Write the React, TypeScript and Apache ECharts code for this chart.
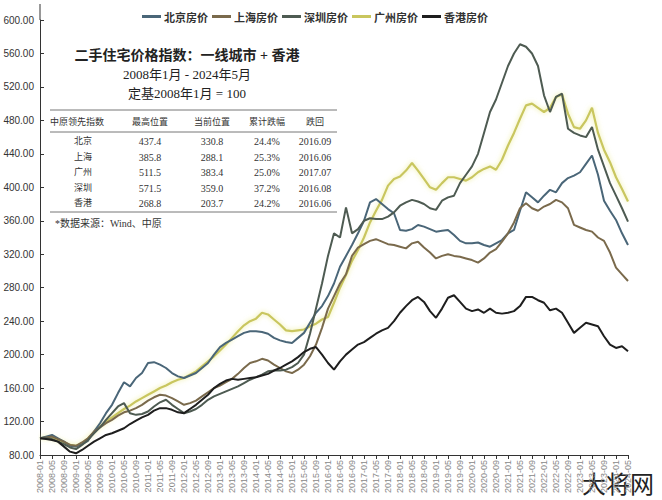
import React, { useEffect, useRef } from "react";
import * as echarts from "echarts";

// ---- categories (every 2 months, 2008-01 .. 2024-05) ----
const years = [2008, 2009, 2010, 2011, 2012, 2013, 2014, 2015, 2016, 2017, 2018, 2019, 2020, 2021, 2022, 2023, 2024];
const monthCodes = ["01", "03", "05", "07", "09", "11"];
const categories: string[] = [];
for (const y of years) {
  for (const m of monthCodes) {
    if (y === 2024 && Number(m) > 5) continue;
    categories.push(`${y}-${m}`);
  }
}

const yTicks = [80, 120, 160, 200, 240, 280, 320, 360, 400, 440, 480, 520, 560, 600];

// ---- series values (Jan, Mar, May, Jul, Sep, Nov per year) ----
const beijing = [
  100, 102, 104, 100, 96, 91,
  90, 93, 97, 108, 118, 130,
  140, 154, 167, 162, 172, 178,
  190, 191, 188, 184, 178, 174,
  172, 175, 178, 184, 190, 200,
  209, 214, 218, 222, 226, 228,
  228, 227, 225, 220, 217, 215,
  214, 220, 226, 238, 250, 258,
  270, 285, 305, 318, 331, 345,
  360, 382, 386, 380, 374, 369,
  349, 348, 350, 355, 353, 350,
  347, 348, 349, 343, 336, 333,
  333, 334, 331, 329, 333, 337,
  345, 349, 372, 394, 388, 382,
  390, 397, 394, 405, 411, 414,
  418, 428, 438, 415, 384, 372,
  361, 345, 331,
];

const shanghai = [
  100, 101, 102, 99, 96, 92,
  91, 95, 100, 108, 113, 118,
  122, 127, 131, 133, 136, 140,
  145, 149, 152, 151, 148, 144,
  140, 142, 145, 150, 155, 160,
  163, 167, 171, 177, 184, 190,
  192, 195, 193, 188, 184, 180,
  178, 182, 188, 198, 212, 232,
  255, 270, 285, 296, 318, 328,
  332, 336, 338, 335, 332, 331,
  329, 327, 333, 335, 328, 322,
  315, 318, 320, 318, 317, 315,
  313, 310, 315, 322, 326, 335,
  345, 358, 375, 381, 375, 372,
  377, 380, 385, 382, 375, 355,
  352, 349, 347, 340, 336, 322,
  304, 296, 288,
];

const shenzhen = [
  100, 100, 99, 96, 93, 89,
  87, 92, 98, 106, 113, 122,
  130, 138, 142, 130, 128, 129,
  132, 138, 143, 146, 140, 135,
  130, 132, 135, 140, 146, 150,
  153, 156, 159, 162, 166, 170,
  173, 176, 180, 181, 181, 182,
  185, 190, 200, 225, 255, 285,
  318, 345, 340, 376, 345, 350,
  360, 363, 362, 362, 365, 370,
  378, 382, 385, 383, 380, 375,
  373, 384, 388, 390, 405, 415,
  425, 440, 465, 490, 505, 525,
  545, 560, 571, 568, 560, 545,
  510, 490, 508, 512, 470, 465,
  462, 460, 472, 445, 425, 405,
  390, 375, 359,
];

const guangzhou = [
  100, 101, 100, 98, 95, 92,
  91, 94, 100, 107, 114, 120,
  125, 130, 135, 139, 144, 148,
  152, 156, 160, 163, 167, 170,
  172, 176, 180, 186, 192, 198,
  205, 212, 220, 228, 235, 240,
  243, 250, 248, 242, 236, 229,
  228, 229, 230, 234, 237, 242,
  245, 262, 280, 295, 312, 325,
  340, 358, 372, 385, 402, 410,
  413, 420, 429, 420, 410, 400,
  397, 405, 412, 412, 410, 408,
  412, 418, 422, 425, 421, 433,
  450, 465, 482, 498, 500, 495,
  490, 495, 508, 511, 488, 472,
  470, 480, 495, 465, 445, 430,
  412, 398, 383,
];

const hongkong = [
  100, 99, 98, 96, 90, 84,
  82, 86, 91, 96, 100, 104,
  106, 109, 112, 117, 121, 125,
  128, 133, 136, 136, 134, 131,
  130, 135, 140, 146, 152, 160,
  165, 169, 171, 170, 171, 172,
  173, 175, 177, 181, 184, 188,
  192, 197, 203, 207, 209, 200,
  190, 182, 192, 200, 206, 212,
  215, 220, 225, 229, 232, 240,
  250, 258, 265, 269, 263, 252,
  244, 255, 268, 271, 263, 255,
  252, 254, 250, 255, 250, 249,
  250, 252, 258, 269, 269, 265,
  262, 253, 255, 250, 238, 226,
  232, 238, 236, 234, 222, 212,
  208, 210, 204,
];

const seriesNames = ["北京房价", "上海房价", "深圳房价", "广州房价", "香港房价"];

// ---- table ----
const tableHeader = ["中原领先指数", "最高位置", "当前位置", "累计跌幅", "跌回"];
const tableCities = ["北京", "上海", "广州", "深圳", "香港"];
const tableMax = ["437.4", "385.8", "511.5", "571.5", "268.8"];
const tableCurrent = ["330.8", "288.1", "383.4", "359.0", "203.7"];
const tableDrop = ["24.4%", "25.3%", "25.0%", "37.2%", "24.2%"];
const tableBackTo = ["2016.09", "2016.06", "2017.07", "2016.08", "2016.06"];

const titleLines = ["二手住宅价格指数：一线城市 + 香港", "2008年1月 - 2024年5月", "定基2008年1月 = 100"];
const footnote = "*数据来源：Wind、中原";

const SERIF = '"Liberation Serif", "DejaVu Serif", "Noto Sans CJK SC", serif';
const SANS = '"Liberation Sans", Arial, "Noto Sans CJK SC", sans-serif';

export default function App() {
  const ref = useRef<HTMLDivElement>(null);

  useEffect(() => {
    if (!ref.current) return;
    const chart = echarts.init(ref.current, null, { renderer: "svg" });

    const colX = [83, 150, 212, 267, 315];
    const rowY = [141, 157, 172, 188, 203];
    const graphics: any[] = [];

    // y axis extension above 600
    graphics.push({ type: "line", shape: { x1: 40, y1: 4, x2: 40, y2: 20 }, style: { stroke: "#333", lineWidth: 1 } });

    // title
    const titleY = [55, 74, 93];
    titleLines.forEach((t, i) => {
      graphics.push({
        type: "text", x: 187, y: titleY[i],
        style: { text: t, fill: "#222", fontSize: i === 0 ? 14 : 13, fontFamily: SERIF, textAlign: "center", textVerticalAlign: "middle", fontWeight: i === 0 ? "bold" : "normal" },
      });
    });

    // table lines
    [110, 132, 212].forEach((y) => {
      graphics.push({ type: "line", shape: { x1: 50, y1: y, x2: 337, y2: y }, style: { stroke: "#777", lineWidth: 1 } });
    });
    tableHeader.forEach((h, i) => {
      graphics.push({
        type: "text", x: i === 0 ? 77 : colX[i], y: 122,
        style: { text: h, fill: "#333", fontSize: 9, fontFamily: SERIF, textAlign: "center", textVerticalAlign: "middle" },
      });
    });
    const cols = [tableCities, tableMax, tableCurrent, tableDrop, tableBackTo];
    tableCities.forEach((_, r) => {
      cols.forEach((col, c) => {
        graphics.push({
          type: "text", x: colX[c], y: rowY[r],
          style: { text: col[r], fill: "#333", fontSize: c === 0 ? 9 : 10, fontFamily: SERIF, textAlign: "center", textVerticalAlign: "middle" },
        });
      });
    });
    graphics.push({
      type: "text", x: 55, y: 223,
      style: { text: footnote, fill: "#333", fontSize: 10, fontFamily: SERIF, textAlign: "left", textVerticalAlign: "middle" },
    });

    // watermark
    graphics.push({
      type: "text", x: 654, y: 482,
      style: { text: "大将网", fill: "#222", fontSize: 24, fontFamily: '"Noto Sans CJK SC", sans-serif', textAlign: "right", textVerticalAlign: "middle" },
    });

    const colors = ["#4a6678", "#7a6a4c", "#4e5b52", "#c9c65e", "#1e1e1e"];
    const datasets = [beijing, shanghai, shenzhen, guangzhou, hongkong];

    chart.setOption({
      animation: false,
      backgroundColor: "#fff",
      grid: { left: 40, right: 34, top: 20, bottom: 45, containLabel: false },
      legend: {
        left: 137, top: 6,
        itemWidth: 19, itemHeight: 3, itemGap: 4,
        icon: "rect",
        textStyle: { fontSize: 11, fontWeight: "bold", color: "#333", fontFamily: '"Noto Sans CJK SC", sans-serif', padding: [0, 0, 0, -2] },
        data: seriesNames,
      },
      xAxis: {
        type: "category",
        data: categories,
        boundaryGap: false,
        axisLine: { lineStyle: { color: "#333", width: 1 } },
        axisTick: { interval: 1, length: 4, lineStyle: { color: "#333" } },
        axisLabel: { interval: 1, rotate: 90, fontSize: 9, color: "#888", margin: 5, fontFamily: SANS },
        splitLine: { show: false },
      },
      yAxis: {
        type: "value",
        min: 80, max: 600, interval: 40,
        axisLine: { show: true, lineStyle: { color: "#333", width: 1 } },
        axisTick: { show: true, inside: true, length: 4, lineStyle: { color: "#333" } },
        axisLabel: { fontSize: 10, color: "#333", margin: 6, fontFamily: SANS, formatter: (v: number) => (yTicks.includes(v) ? v.toFixed(2) : "") },
        splitLine: { show: false },
      },
      series: datasets.map((d, i) => ({
        name: seriesNames[i],
        type: "line",
        data: d,
        showSymbol: false,
        symbol: "none",
        color: colors[i],
        lineStyle: i === 3
          ? { width: 2.2, color: colors[i], shadowBlur: 5, shadowColor: "rgba(235,235,140,0.9)" }
          : { width: 2, color: colors[i] },
        z: i === 3 ? 2 : 3,
      })),
      graphic: graphics,
    });

    return () => chart.dispose();
  }, []);

  return <div ref={ref} style={{ position: "absolute", left: 0, top: 0, width: 662, height: 500, background: "#fff" }} />;
}
